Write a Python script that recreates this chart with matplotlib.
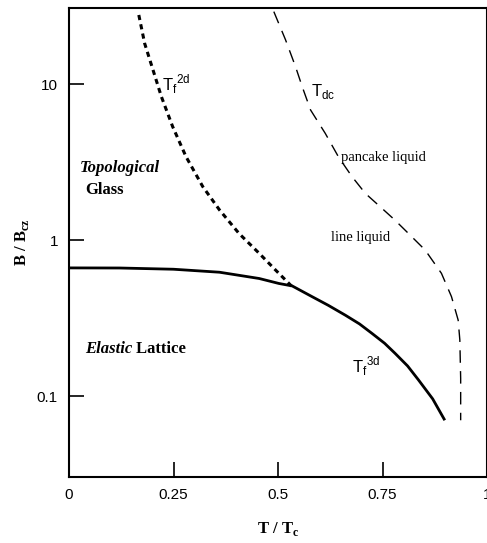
import numpy as np
import matplotlib.pyplot as plt

# T_f^3d (solid)
t3d = [0.0, 0.121, 0.25, 0.36, 0.455, 0.502, 0.534, 0.582, 0.62, 0.661, 0.695, 0.725, 0.755,
       0.78, 0.81, 0.836, 0.87, 0.899]
b3d = [0.663, 0.662, 0.65, 0.622, 0.567, 0.527, 0.508, 0.433, 0.382, 0.330, 0.29, 0.252, 0.218,
       0.188, 0.156, 0.127, 0.096, 0.070]

# T_f^2d (dotted)
t2d = [0.167, 0.181, 0.201, 0.221, 0.248, 0.280, 0.320, 0.360, 0.407, 0.455, 0.494, 0.534]
b2d = [27.7, 18.2, 12.3, 8.3, 5.33, 3.42, 2.20, 1.56, 1.10, 0.822, 0.643, 0.502]

# T_dc (dashed)
tdc = [0.490, 0.518, 0.542, 0.558, 0.578, 0.613, 0.645, 0.677, 0.709, 0.745, 0.78, 0.808,
       0.852, 0.891, 0.915, 0.931, 0.935, 0.937, 0.937]
bdc = [29.1, 19.2, 12.9, 9.6, 6.81, 4.83, 3.4, 2.55, 1.99, 1.63, 1.34, 1.13,
       0.863, 0.612, 0.434, 0.307, 0.229, 0.13, 0.070]

plt.rcParams['font.family'] = ['Liberation Sans', 'DejaVu Sans']
fig = plt.figure(figsize=(4.87, 5.43), dpi=100)
ax = fig.add_axes([69/487, 1 - 477/543, 1 - 69/487, (477 - 8)/543])

ax.plot(t3d, b3d, color='black', lw=2.0, solid_capstyle='butt', solid_joinstyle='round')
ax.plot(t2d, b2d, color='black', lw=2.2, linestyle=(0, (1.7, 1.4)))
ax.plot(tdc, bdc, color='black', lw=1.0, linestyle=(0, (9, 6)))

ax.set_yscale('log')
ax.set_xlim(0, 1)
ax.set_ylim(0.0303, 30.7)
ax.set_xticks([0, 0.25, 0.5, 0.75, 1])
ax.set_xticklabels(['0', '0.25', '0.5', '0.75', '1'])
ax.set_yticks([0.1, 1, 10])
ax.set_yticklabels(['0.1', '1', '10'])
ax.minorticks_off()
ax.tick_params(direction='in', length=11, width=1.2, labelsize=11, pad=8)
for s in ax.spines.values():
    s.set_linewidth(1.5)

serif = 'Liberation Serif'
ax.set_xlabel('T / T$_\\mathregular{c}$', family=serif, fontweight='bold', fontsize=12, labelpad=13)
ax.set_ylabel('B / B$_\\mathregular{cz}$', family=serif, fontweight='bold', fontsize=12, labelpad=4)

ax.text(0.222, 10.0, 'T$_\\mathregular{f}$$^\\mathregular{2d}$', fontsize=12, va='center')
ax.text(0.58, 9.0, 'T$_\\mathregular{dc}$', fontsize=12, va='center')
ax.text(0.65, 3.4, 'pancake liquid', family=serif, fontsize=10.5, va='center')
ax.text(0.627, 1.04, 'line liquid', family=serif, fontsize=10.5, va='center')
ax.text(0.026, 2.9, 'Topological', family=serif, fontweight='bold', fontstyle='italic', fontsize=12, va='center')
ax.text(0.038, 2.1, 'Glass', family=serif, fontweight='bold', fontsize=12, va='center')
el = ax.text(0.038, 0.2, 'Elastic', family=serif, fontweight='bold', fontstyle='italic', fontsize=12, va='center')
ax.annotate(' Lattice', xy=(1, 0.5), xycoords=el, family=serif, fontweight='bold', fontsize=12,
            va='center', ha='left')
ax.text(0.677, 0.155, 'T$_\\mathregular{f}$$^\\mathregular{3d}$', fontsize=12, va='center')

fig.savefig('out.png', dpi=100)
